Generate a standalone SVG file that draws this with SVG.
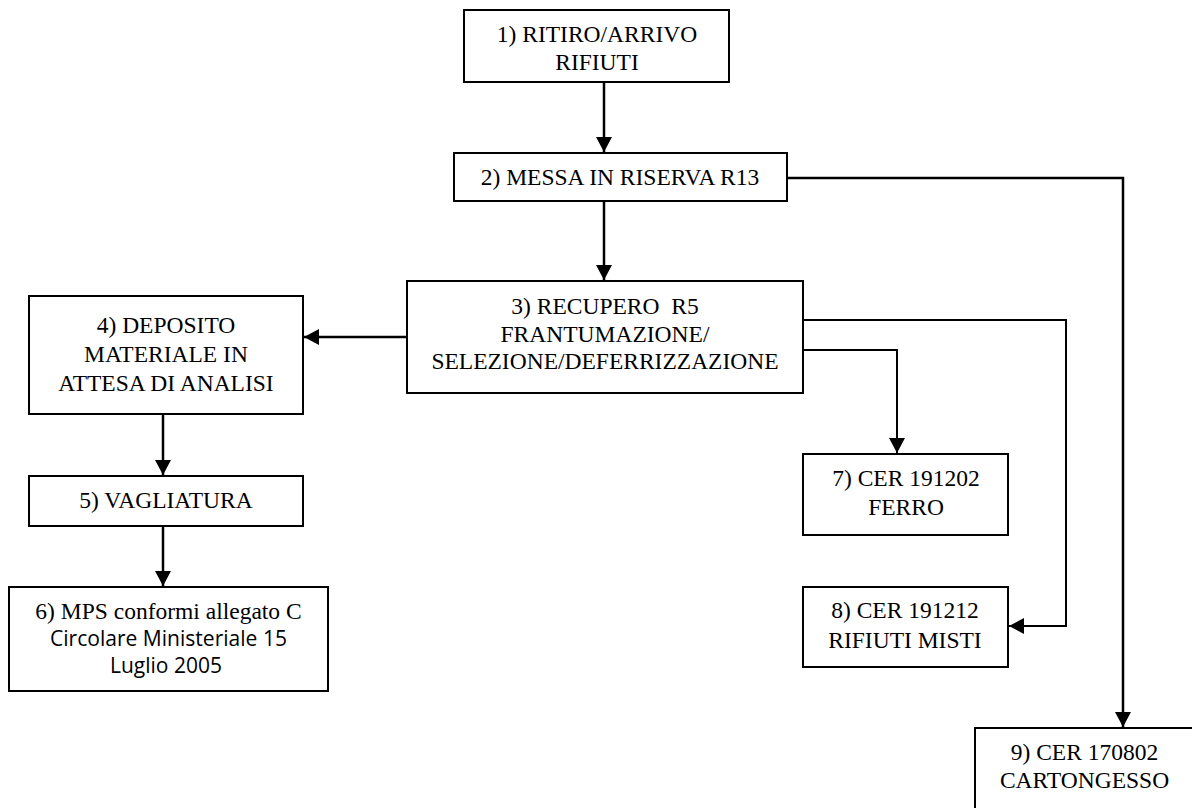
<svg xmlns="http://www.w3.org/2000/svg" width="1192" height="808" viewBox="0 0 1192 808">
<style>
.box{fill:#fff;stroke:#000;stroke-width:2}
text.t{font-family:'Liberation Serif','Times New Roman',serif;font-size:23.5px;fill:#000;text-anchor:middle}
text.s{font-family:'Open Sans','Liberation Sans',sans-serif;font-size:21.5px;fill:#000;text-anchor:middle}
.c{fill:none;stroke:#000;stroke-width:2.5}
.c2{fill:none;stroke:#000;stroke-width:2}
</style>
<defs>
<marker id="ah" markerUnits="userSpaceOnUse" markerWidth="16" markerHeight="16" refX="15" refY="8" orient="auto">
<path d="M0,0 L15,8 L0,16 z" fill="#000"/>
</marker>
</defs>
<rect width="1192" height="808" fill="#fff"/>
<g id="connectors">
<path class="c" d="M604,82 V152" marker-end="url(#ah)"/>
<path class="c" d="M604,201 V280" marker-end="url(#ah)"/>
<path class="c" d="M407,337 H304" marker-end="url(#ah)"/>
<path class="c" d="M163,414 V475" marker-end="url(#ah)"/>
<path class="c" d="M163,526 V586" marker-end="url(#ah)"/>
<path class="c2" d="M803,320 H1066 V626 H1009" marker-end="url(#ah)"/>
<path class="c2" d="M803,350 H897 V453" marker-end="url(#ah)"/>
<path class="c" d="M787,178 H1123 V727" marker-end="url(#ah)"/>
</g>
<g id="n1">
<rect class="box" x="464" y="10" width="265" height="72"/>
<text class="t" x="597" y="42">1) RITIRO/ARRIVO</text>
<text class="t" x="597" y="70">RIFIUTI</text>
</g>
<g id="n2">
<rect class="box" x="454" y="153" width="333" height="48"/>
<text class="t" x="620" y="185">2) MESSA IN RISERVA R13</text>
</g>
<g id="n3">
<rect class="box" x="407" y="281" width="396" height="112"/>
<text class="t" x="605" y="314" xml:space="preserve">3) RECUPERO  R5</text>
<text class="t" x="605" y="342">FRANTUMAZIONE/</text>
<text class="t" x="605" y="369">SELEZIONE/DEFERRIZZAZIONE</text>
</g>
<g id="n4">
<rect class="box" x="29" y="296" width="274" height="118"/>
<text class="t" x="166" y="333">4) DEPOSITO</text>
<text class="t" x="166" y="362">MATERIALE IN</text>
<text class="t" x="166" y="391">ATTESA DI ANALISI</text>
</g>
<g id="n5">
<rect class="box" x="29" y="476" width="274" height="50"/>
<text class="t" x="166" y="508">5) VAGLIATURA</text>
</g>
<g id="n6">
<rect class="box" x="9" y="587" width="319" height="104"/>
<text class="t" x="168.5" y="619">6) MPS conformi allegato C</text>
<text class="s" x="168.5" y="646" textLength="237" lengthAdjust="spacingAndGlyphs">Circolare Ministeriale 15</text>
<text class="s" x="166" y="673" textLength="112" lengthAdjust="spacingAndGlyphs">Luglio 2005</text>
</g>
<g id="n7">
<rect class="box" x="803" y="454" width="205" height="81"/>
<text class="t" x="906" y="486">7) CER 191202</text>
<text class="t" x="906" y="515">FERRO</text>
</g>
<g id="n8">
<rect class="box" x="803" y="587" width="205" height="80"/>
<text class="t" x="905" y="618">8) CER 191212</text>
<text class="t" x="905" y="648">RIFIUTI MISTI</text>
</g>
<g id="n9">
<rect class="box" x="975" y="728" width="222" height="100"/>
<text class="t" x="1084.5" y="760">9) CER 170802</text>
<text class="t" x="1084.5" y="788">CARTONGESSO</text>
</g>
</svg>
